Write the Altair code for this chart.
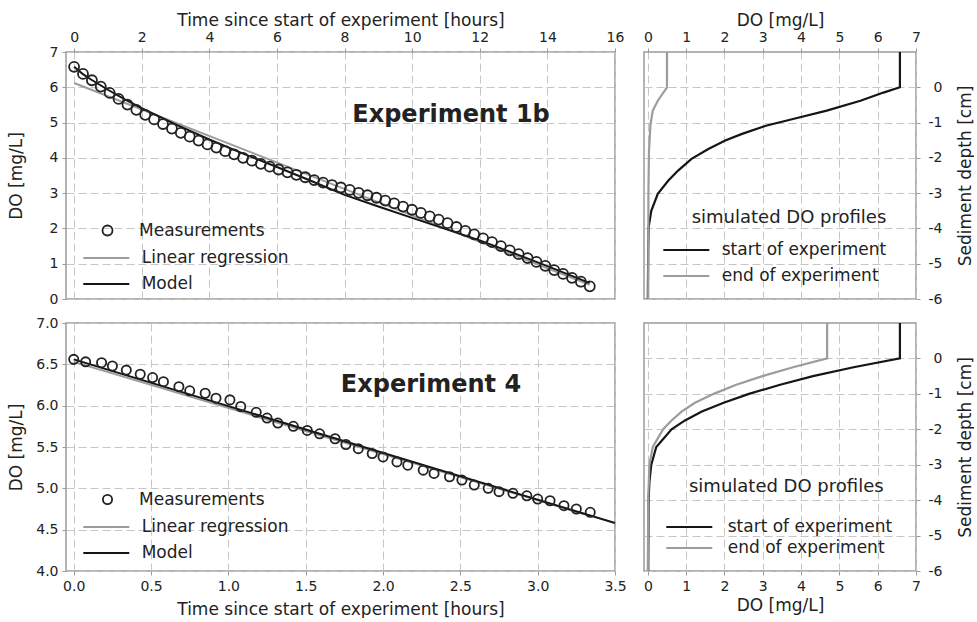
import altair as alt
import pandas as pd

FONT = "DejaVu Sans"
INK = "#222222"
GRID = "#c6c6c6"
FRAME = "#9a9a9a"
LIGHT = "#9c9c9c"
DARK = "#151515"

# ---------------- Experiment 1b: DO time series ----------------
exp1b_time = [0.000, 0.263, 0.526, 0.789, 1.052, 1.315, 1.578, 1.841, 2.104, 2.367,
              2.630, 2.893, 3.156, 3.419, 3.682, 3.945, 4.208, 4.471, 4.734, 4.997,
              5.260, 5.523, 5.786, 6.049, 6.312, 6.575, 6.838, 7.101, 7.364, 7.627,
              7.890, 8.153, 8.416, 8.679, 8.942, 9.205, 9.468, 9.731, 9.994, 10.257,
              10.520, 10.783, 11.046, 11.309, 11.572, 11.835, 12.098, 12.361, 12.624, 12.887,
              13.150, 13.413, 13.676, 13.939, 14.202, 14.465, 14.728, 14.991, 15.254]
exp1b_do = [6.58, 6.38, 6.20, 6.02, 5.84, 5.67, 5.51, 5.36, 5.22, 5.09,
            4.96, 4.83, 4.71, 4.60, 4.49, 4.38, 4.29, 4.19, 4.10, 4.00,
            3.92, 3.83, 3.75, 3.67, 3.59, 3.52, 3.45, 3.37, 3.30, 3.23,
            3.16, 3.09, 3.01, 2.94, 2.87, 2.79, 2.71, 2.62, 2.53, 2.44,
            2.34, 2.25, 2.15, 2.04, 1.93, 1.83, 1.72, 1.61, 1.50, 1.38,
            1.27, 1.16, 1.05, 0.94, 0.82, 0.71, 0.60, 0.49, 0.36]
exp1b_model_time = [0.0, 0.25, 0.5, 1.0, 1.5, 2.0, 3.0, 4.0, 5.0, 6.0, 7.0, 8.0,
                    9.0, 10.0, 11.0, 12.0, 13.0, 14.0, 15.0, 15.25]
exp1b_model_do = [6.58, 6.38, 6.22, 5.93, 5.66, 5.41, 4.95, 4.52, 4.12, 3.74, 3.35, 2.95,
                  2.62, 2.30, 1.98, 1.66, 1.30, 0.93, 0.55, 0.45]
exp1b_linreg_time = [0.0, 15.25]
exp1b_linreg_do = [6.12, 0.40]

# ---------------- Experiment 4: DO time series ----------------
exp4_time = [0.00, 0.077, 0.18, 0.25, 0.34, 0.43, 0.51, 0.58, 0.68, 0.75,
             0.85, 0.92, 1.01, 1.08, 1.18, 1.25, 1.32, 1.42, 1.51, 1.59,
             1.69, 1.76, 1.84, 1.93, 2.00, 2.09, 2.16, 2.26, 2.33, 2.43,
             2.51, 2.59, 2.68, 2.75, 2.84, 2.93, 3.00, 3.08, 3.17, 3.25, 3.34]
exp4_do = [6.56, 6.53, 6.52, 6.48, 6.43, 6.38, 6.34, 6.29, 6.23, 6.18,
           6.15, 6.09, 6.07, 5.99, 5.92, 5.85, 5.79, 5.75, 5.70, 5.66,
           5.60, 5.53, 5.48, 5.42, 5.38, 5.32, 5.28, 5.22, 5.18, 5.14,
           5.10, 5.04, 5.00, 4.96, 4.94, 4.91, 4.87, 4.85, 4.79, 4.75, 4.71]
exp4_model_time = [0.0, 3.5]
exp4_model_do = [6.56, 4.58]
exp4_linreg_time = [0.0, 3.35]
exp4_linreg_do = [6.53, 4.66]

# ---------------- Simulated sediment DO profiles ----------------
prof1b_start_depth = [1.0, 0.0, -0.15, -0.38, -0.66, -0.90, -1.09, -1.32, -1.51, -1.75,
                      -2.03, -2.36, -2.65, -3.02, -3.50, -3.97, -4.60, -6.0]
prof1b_start_do = [6.58, 6.58, 6.15, 5.55, 4.67, 3.79, 3.08, 2.46, 2.02, 1.58,
                   1.14, 0.79, 0.53, 0.26, 0.09, 0.02, 0.01, 0.0]
prof1b_end_depth = [1.0, 0.0, -0.38, -0.66, -1.04, -1.80, -3.0, -6.0]
prof1b_end_do = [0.50, 0.50, 0.26, 0.13, 0.07, 0.03, 0.015, 0.01]

prof4_start_depth = [1.0, 0.0, -0.25, -0.5, -0.75, -1.0, -1.25, -1.5, -1.75, -2.0,
                     -2.5, -3.0, -3.5, -4.0, -6.0]
prof4_start_do = [6.58, 6.58, 5.37, 4.31, 3.43, 2.64, 1.98, 1.41, 0.97, 0.62,
                  0.22, 0.09, 0.04, 0.02, 0.01]
prof4_end_depth = [1.0, 0.0, -0.25, -0.5, -0.75, -1.0, -1.25, -1.5, -1.75, -2.0,
                   -2.5, -3.0, -4.0, -6.0]
prof4_end_do = [4.68, 4.68, 3.79, 2.99, 2.29, 1.72, 1.23, 0.88, 0.62, 0.40,
                0.13, 0.04, 0.01, 0.0]

TIME_TITLE = "Time since start of experiment [hours]"
LEFT_W = 549
RIGHT_W = 272

# Legend line symbol: a horizontal stroke three times as long as the symbol's
# nominal size, so that legend rows stay as tall as their labels.
LINE_SYMBOL = "M-3,0H3"
LINE_SYMBOL_SIZE = 235


def time_panel(meas_t, meas_do, lin_t, lin_do, mod_t, mod_do, *, height, x_domain,
               x_ticks, x_label, x_orient, y_domain, y_ticks, y_label, label,
               label_x, label_y, point_size, legend_y, first_gap, row_gap):
    meas = pd.DataFrame({"t": meas_t, "DO": meas_do, "series": "Measurements"})
    lines = pd.concat([
        pd.DataFrame({"t": lin_t, "DO": lin_do, "series": "Linear regression"}),
        pd.DataFrame({"t": mod_t, "DO": mod_do, "series": "Model"}),
    ])
    x_axis = alt.Axis(orient=x_orient, values=x_ticks, labelExpr=x_label, title=TIME_TITLE,
                      labelOverlap=False, labelFlush=False, tickCount=len(x_ticks),
                      titleX=LEFT_W / 2, titleY=(-27 if x_orient == "top" else 43),
                      titleAlign="center", titleBaseline="alphabetic")
    y_axis = alt.Axis(orient="left", values=y_ticks, labelExpr=y_label, title="DO [mg/L]",
                      labelOverlap=False, labelFlush=False, tickCount=len(y_ticks),
                      titleX=-50, titleY=height / 2, titleAngle=270,
                      titleAlign="center", titleBaseline="middle")
    xs = alt.Scale(domain=x_domain, nice=False, zero=False)
    ys = alt.Scale(domain=y_domain, nice=False, zero=False)

    line_layer = alt.Chart(lines).mark_line(strokeWidth=2).encode(
        x=alt.X("t:Q", scale=xs, axis=x_axis),
        y=alt.Y("DO:Q", scale=ys, axis=y_axis),
        color=alt.Color("series:N",
                        scale=alt.Scale(domain=["Linear regression", "Model"], range=[LIGHT, DARK]),
                        legend=alt.Legend(title=None, orient="none", legendX=31.3,
                                          legendY=legend_y + first_gap, symbolType=LINE_SYMBOL,
                                          symbolSize=LINE_SYMBOL_SIZE, symbolStrokeWidth=2,
                                          labelOffset=26.4, rowPadding=row_gap - 17)),
    )
    point_layer = alt.Chart(meas).mark_point(
        filled=False, size=point_size, strokeWidth=1.8, color=INK, opacity=1
    ).encode(
        x=alt.X("t:Q", scale=xs, axis=x_axis),
        y=alt.Y("DO:Q", scale=ys, axis=y_axis),
        shape=alt.Shape("series:N",
                        scale=alt.Scale(domain=["Measurements"], range=["circle"]),
                        legend=alt.Legend(title=None, orient="none", legendX=33, legendY=legend_y,
                                          symbolSize=point_size, symbolStrokeWidth=1.8,
                                          symbolStrokeColor=INK, symbolFillColor="transparent",
                                          labelOffset=23)),
    )
    text_layer = alt.Chart(pd.DataFrame({"name": [label]})).mark_text(
        font=FONT, fontSize=24, fontWeight="bold", color=INK, baseline="middle"
    ).encode(
        x=alt.X(datum=label_x, type="quantitative", scale=xs, axis=x_axis),
        y=alt.Y(datum=label_y, type="quantitative", scale=ys, axis=y_axis),
        text="name:N",
    )
    return alt.layer(line_layer, point_layer, text_layer).properties(width=LEFT_W, height=height)


def profile_panel(start_depth, start_do, end_depth, end_do, *, height, x_orient,
                  legend_x, legend_y, label_offset, row_gap, title_gap, title_anchor):
    prof = pd.concat([
        pd.DataFrame({"DO": start_do, "depth": start_depth, "profile": "start of experiment",
                      "step": range(len(start_do))}),
        pd.DataFrame({"DO": end_do, "depth": end_depth, "profile": "end of experiment",
                      "step": range(len(end_do))}),
    ])
    x_axis = alt.Axis(orient=x_orient, values=list(range(8)), format="d", title="DO [mg/L]",
                      labelOverlap=False, labelFlush=False,
                      titleX=RIGHT_W / 2, titleY=(-27 if x_orient == "top" else 39),
                      titleAlign="center", titleBaseline="alphabetic")
    y_axis = alt.Axis(orient="right", values=[-6, -5, -4, -3, -2, -1, 0],
                      labelExpr="'' + datum.value", labelAlign="right", labelPadding=22,
                      labelOverlap=False, labelFlush=False,
                      title="Sediment depth [cm]", titleX=49, titleY=height / 2,
                      titleAngle=270, titleAlign="center", titleBaseline="middle")
    return alt.Chart(prof).mark_line(strokeWidth=2.2).encode(
        x=alt.X("DO:Q", scale=alt.Scale(domain=[-0.1, 7], nice=False, zero=False), axis=x_axis),
        y=alt.Y("depth:Q", scale=alt.Scale(domain=[-6, 1], nice=False, zero=False), axis=y_axis),
        color=alt.Color("profile:N",
                        scale=alt.Scale(domain=["start of experiment", "end of experiment"],
                                        range=[DARK, LIGHT]),
                        legend=alt.Legend(title="simulated DO profiles", orient="none",
                                          legendX=legend_x, legendY=legend_y,
                                          titleAnchor=title_anchor, titlePadding=title_gap,
                                          symbolType=LINE_SYMBOL, symbolSize=LINE_SYMBOL_SIZE,
                                          symbolStrokeWidth=2.2, labelOffset=label_offset,
                                          rowPadding=row_gap - 17)),
        order="step:Q",
    ).properties(width=RIGHT_W, height=height)


top_left = time_panel(
    exp1b_time, exp1b_do, exp1b_linreg_time, exp1b_linreg_do, exp1b_model_time, exp1b_model_do,
    height=247, x_domain=[-0.24, 16], x_ticks=[0, 2, 4, 6, 8, 10, 12, 14, 16],
    x_label="format(datum.value, 'd')", x_orient="top",
    y_domain=[0, 7], y_ticks=[0, 1, 2, 3, 4, 5, 6, 7], y_label="format(datum.value, 'd')",
    label="Experiment 1b", label_x=11.15, label_y=5.22, point_size=100,
    legend_y=170, first_gap=27, row_gap=26,
)
bottom_left = time_panel(
    exp4_time, exp4_do, exp4_linreg_time, exp4_linreg_do, exp4_model_time, exp4_model_do,
    height=248, x_domain=[-0.05, 3.5], x_ticks=[0, 0.5, 1, 1.5, 2, 2.5, 3, 3.5],
    x_label="format(datum.value, '.1f')", x_orient="bottom",
    y_domain=[4, 7], y_ticks=[4, 4.5, 5, 5.5, 6, 6.5, 7], y_label="format(datum.value, '.1f')",
    label="Experiment 4", label_x=2.31, label_y=6.25, point_size=85,
    legend_y=168, first_gap=27, row_gap=26,
)
top_right = profile_panel(prof1b_start_depth, prof1b_start_do, prof1b_end_depth, prof1b_end_do,
                          height=247, x_orient="top", legend_x=33.3, legend_y=157,
                          label_offset=26.4, row_gap=26, title_gap=14, title_anchor="end")
bottom_right = profile_panel(prof4_start_depth, prof4_start_do, prof4_end_depth, prof4_end_do,
                             height=248, x_orient="bottom", legend_x=36.3, legend_y=155,
                             label_offset=29.4, row_gap=21, title_gap=22, title_anchor="middle")

chart = alt.concat(
    top_left, top_right, bottom_left, bottom_right,
    columns=2, spacing={"row": 24, "column": 29}, bounds="flush",
).resolve_scale(
    color="independent", shape="independent"
).resolve_legend(
    color="independent", shape="independent"
).properties(
    padding={"left": 6, "top": 10, "right": 0, "bottom": 0}
).configure(
    background="white", font=FONT
).configure_view(
    stroke=FRAME, strokeWidth=1.5
).configure_axis(
    labelFont=FONT, labelFontSize=14, labelColor=INK, labelPadding=4,
    labelFlush=False, labelOverlap=False,
    titleFont=FONT, titleFontSize=17, titleFontWeight="normal", titleColor=INK,
    grid=True, gridColor=GRID, gridDash=[8, 4], gridWidth=1,
    domain=False, tickColor=FRAME, tickSize=4, tickWidth=1,
).configure_legend(
    labelFont=FONT, labelFontSize=17, labelColor=INK, labelLimit=0,
    titleFont=FONT, titleFontSize=18, titleFontWeight="normal", titleColor=INK,
    titleLimit=0, padding=0,
)

chart.save("out.html", embed_options={"renderer": "svg", "actions": False})
